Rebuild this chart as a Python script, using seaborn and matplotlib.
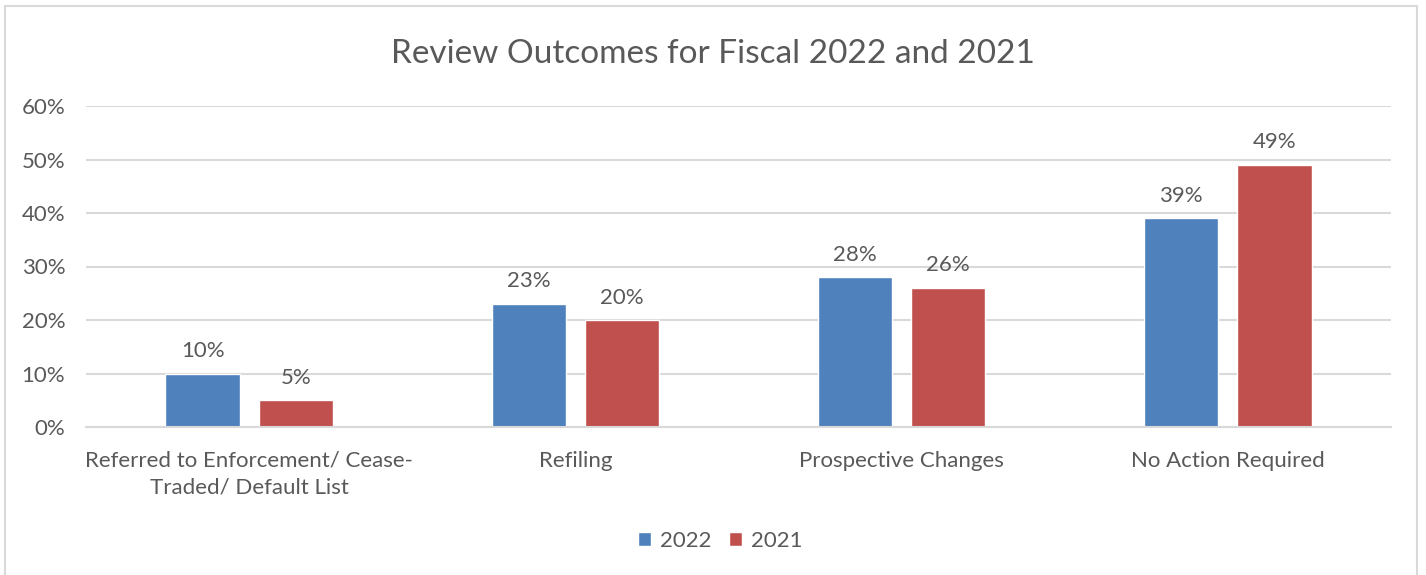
import matplotlib
matplotlib.use("Agg")
import matplotlib.pyplot as plt
import seaborn as sns
import pandas as pd
from matplotlib.patches import Rectangle
from matplotlib.ticker import PercentFormatter

categories = ["Referred to Enforcement/ Cease-\nTraded/ Default List", "Refiling",
              "Prospective Changes", "No Action Required"]
years = ["2022", "2021"]
values_2022 = [0.10, 0.23, 0.28, 0.39]
values_2021 = [0.05, 0.20, 0.26, 0.49]

df = pd.DataFrame({
    "Category": categories * 2,
    "Year": [years[0]] * 4 + [years[1]] * 4,
    "Value": values_2022 + values_2021,
})

sns.set_theme(style="white")
plt.rcParams['font.family'] = ['Lato', 'DejaVu Sans']
text_color = "#595959"
grid_color = "#D9D9D9"

fig = plt.figure(figsize=(14.26, 5.75), dpi=100)
ax = fig.add_axes([86 / 1426, 1 - 427 / 575, (1391 - 86) / 1426, (427 - 106) / 575])

sns.barplot(data=df, x="Category", y="Value", hue="Year", order=categories,
            hue_order=years, palette=["#4F81BD", "#C0504D"], width=0.571, gap=0.204,
            saturation=1, ax=ax, legend=True)

ax.set_ylim(0, 0.6)
ax.set_yticks([0, 0.1, 0.2, 0.3, 0.4, 0.5, 0.6])
ax.yaxis.set_major_formatter(PercentFormatter(1.0, decimals=0))
ax.set_xlim(-0.5, 3.5)
ax.grid(axis="y", color=grid_color, linewidth=1.5)
ax.set_axisbelow(True)
for s in ["top", "right", "left"]:
    ax.spines[s].set_visible(False)
ax.spines["bottom"].set_color(grid_color)
ax.spines["bottom"].set_linewidth(1.5)
ax.set_xlabel("")
ax.set_ylabel("")
ax.tick_params(axis="both", length=0, labelsize=16, colors=text_color)
ax.tick_params(axis="x", pad=17)
ax.tick_params(axis="y", pad=15)
for lbl in ax.get_xticklabels():
    lbl.set_linespacing(1.45)

for cont in ax.containers:
    ax.bar_label(cont, labels=[f"{v * 100:.0f}%" for v in cont.datavalues],
                 padding=9, fontsize=16, color=text_color)

fig.text(0.5, 1 - 54 / 575, "Review Outcomes for Fiscal 2022 and 2021",
         ha="center", va="center", fontsize=24, color=text_color)

handles, labels = ax.get_legend_handles_labels()
ax.get_legend().remove()
fig.legend(handles, labels, loc="center", bbox_to_anchor=(0.505, 1 - 541 / 575),
           ncol=2, frameon=False, fontsize=16, labelcolor=text_color,
           handlelength=0.6, handleheight=0.6, handletextpad=0.4, columnspacing=0.8)

fig.patches.append(Rectangle((5 / 1426, -0.05), (1417 - 5) / 1426, 1.05 - 6 / 575,
                             transform=fig.transFigure, fill=False,
                             edgecolor=grid_color, linewidth=1.5))

fig.savefig("out.png", dpi=100)
